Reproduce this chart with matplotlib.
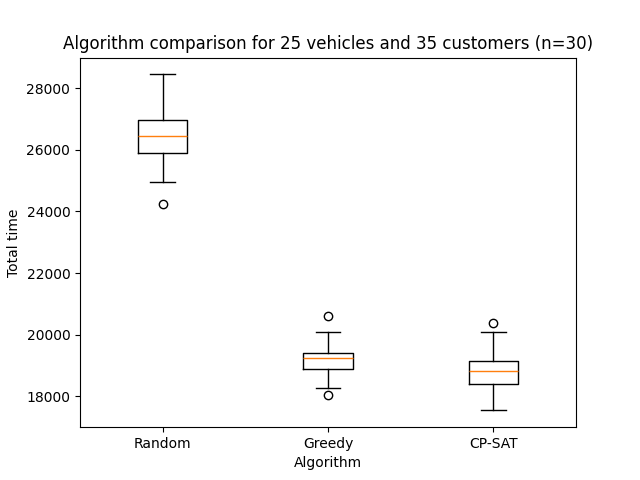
import matplotlib
matplotlib.use("Agg")
import matplotlib.pyplot as plt

labels = ["Random", "Greedy", "CP-SAT"]
whislo = [24940, 18282, 17545]
q1 = [25880, 18899, 18390]
med = [26432, 19256, 18834]
q3 = [26951, 19396, 19159]
whishi = [28445, 20101, 20101]
fliers = [[24243], [20620, 18055], [20380]]

stats = []
for i, lab in enumerate(labels):
    stats.append(dict(label=lab, whislo=whislo[i], q1=q1[i], med=med[i],
                      q3=q3[i], whishi=whishi[i], fliers=fliers[i]))

fig, ax = plt.subplots(figsize=(6.4, 4.8), dpi=100)
ax.bxp(stats)
ax.set_title("Algorithm comparison for 25 vehicles and 35 customers (n=30)")
ax.set_xlabel("Algorithm")
ax.set_ylabel("Total time")
fig.savefig("out.png")
